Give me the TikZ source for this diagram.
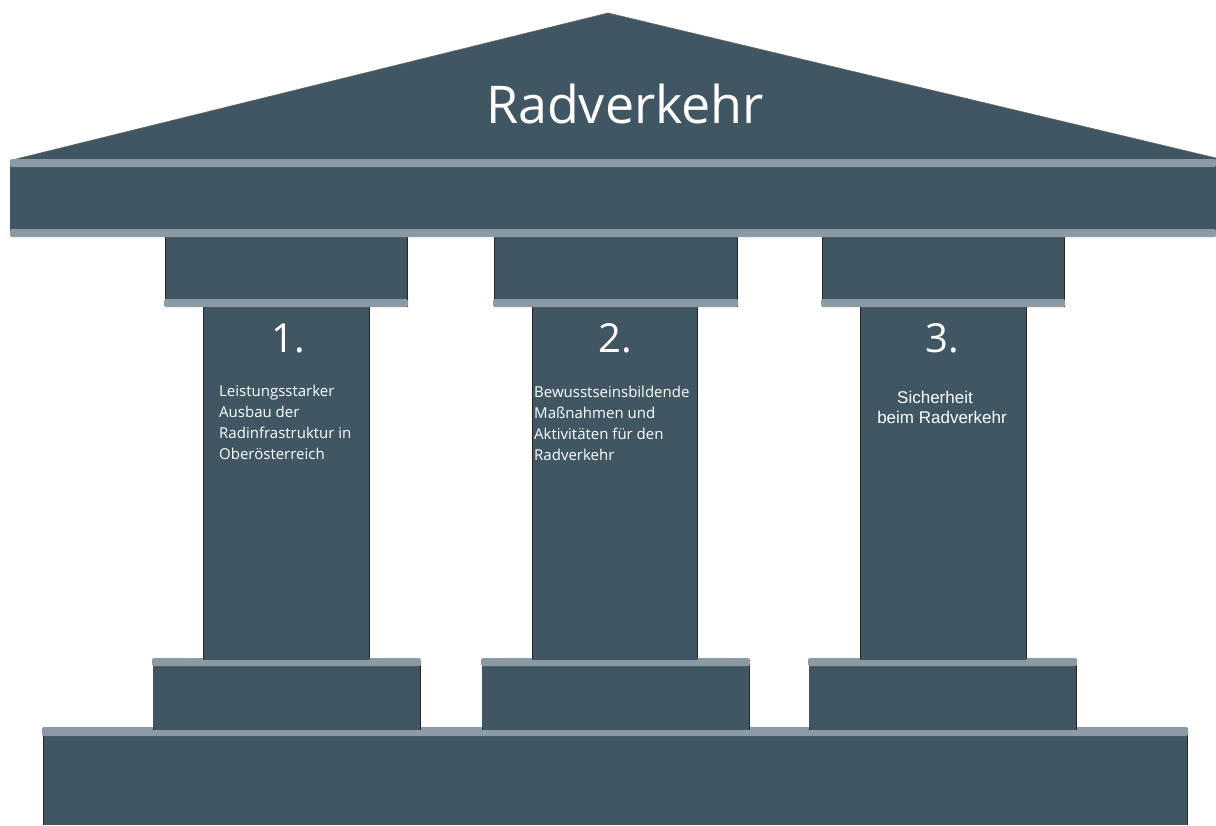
\documentclass[tikz,border=0pt]{standalone}
\usepackage{fontspec}
\setmainfont{Open Sans}
\newfontfamily\arialfont{Liberation Sans}
\definecolor{slate}{RGB}{64,86,98}
\definecolor{stripe}{RGB}{140,154,164}
\begin{document}
\begin{tikzpicture}[x=1pt,y=-1pt,
  block/.style={fill=slate,draw=black!85,line width=0.7pt},
  band/.style={fill=stripe,draw=none,rounded corners=1.5pt},
  label/.style={text=white,inner sep=0pt},
  num/.style={label,font=\fontsize{40}{44}\selectfont},
  body/.style={label,font=\fontsize{15}{21}\selectfont,align=left,anchor=north west},
  arialtext/.style={label,font=\arialfont\fontsize{17}{20}\selectfont,anchor=base}]
\useasboundingbox (0,0) rectangle (1216,825);
% stylobate
\fill[slate] (43,727) rectangle (1187,825);
\draw[black!85,line width=0.7pt] (43,825) -- (43,730) (1187,730) -- (1187,825);
\fill[band] (42,727) rectangle (1188,736);
% bases
\foreach \a/\b in {153/420,482/749,809/1076}{
  \draw[block] (\a,730) -- (\a,659) -- (\b,659) -- (\b,730);
  \fill[slate] (\a+0.4,662) rectangle (\b-0.4,728);
  \fill[band] (\a-1,658) rectangle (\b+1,666);
}
% shafts
\foreach \a/\b in {203/369,532/697,860/1026}{
  \fill[slate] (\a,300) rectangle (\b,660);
  \draw[black!85,line width=0.7pt] (\a,300) -- (\a,659) (\b,300) -- (\b,659);
}
% capitals
\foreach \a/\b in {165/407,494/737,822/1064}{
  \draw[block] (\a,236) rectangle (\b,306);
  \fill[band] (\a-1,299) rectangle (\b+1,307);
}
% entablature
\fill[slate] (10,160) rectangle (1216,236);
\fill[band] (10,229) rectangle (1216,237);
% roof
\fill[slate,draw=black!60,line width=0.6pt] (12,160) -- (608,13) -- (1216,158) -- (1216,160) -- cycle;
\fill[band] (10,159) rectangle (1216,167);
% texts
\node[label,font=\fontsize{52}{60}\selectfont,anchor=base] (title) at (625,123) {Radverkehr};
\node[num,anchor=base] (n1) at (288,352) {1.};
\node[num,anchor=base] (n2) at (615,352) {2.};
\node[num,anchor=base] (n3) at (942,352) {3.};
\node[body] (t1) at (219,385) {Leistungsstarker\\Ausbau der\\Radinfrastruktur in\\Oberösterreich};
\node[body] (t2) at (534,386) {Bewusstseinsbildende\\Maßnahmen und\\Aktivitäten für den\\Radverkehr};
\node[arialtext] (t3a) at (935,403) {Sicherheit};
\node[arialtext] (t3b) at (942,423) {beim Radverkehr};
\end{tikzpicture}
\end{document}
